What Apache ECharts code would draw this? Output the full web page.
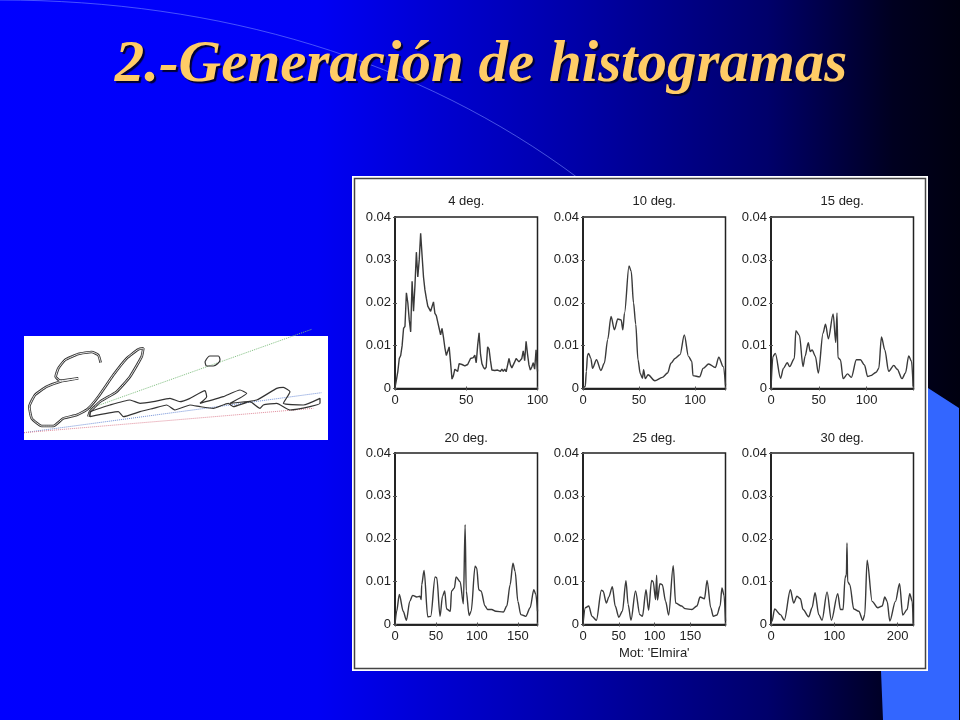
<!DOCTYPE html>
<html><head><meta charset="utf-8">
<style>html,body{margin:0;padding:0;background:#00f}#c{width:960px;height:720px}</style>
<script src="https://cdn.jsdelivr.net/npm/echarts@6/dist/echarts.min.js"></script>
</head><body><div id="c"></div>
<script>
const slideTitle = '2.-Generación de histogramas';
const panelTitles = ['4 deg.','10 deg.','15 deg.','20 deg.','25 deg.','30 deg.'];
const xMaxes = [100,127,149,174,199,225];
const xSteps = [50,50,50,50,50,100];
const yTicks = [0,0.01,0.02,0.03,0.04];
const xLabelName = "Mot: 'Elmira'";

const deg4 = [[0,.0002],[1,.002],[2,.004],[3,.007],[4,.0077],[5,.01],[6,.014],[7,.0145],[8,.0223],[9,.02],[10,.016],[11,.0132],[12,.025],[13,.018],[14,.024],[15,.0318],[16,.026],[17,.03],[18,.0362],[19,.031],[20,.026],[21,.023],[22,.021],[23,.0192],[24,.0194],[25,.018],[26,.0178],[27,.0202],[28,.0175],[29,.017],[30,.0155],[31,.014],[32,.0125],[33,.014],[34,.012],[35,.0095],[36,.0077],[37,.0078],[38,.0097],[39,.006],[40,.0022],[41,.003],[42,.0045],[43,.0048],[44,.004],[45,.0058],[46,.0058],[47,.0056],[48,.0058],[49,.0053],[50,.0055],[51,.0056],[52,.006],[53,.007],[54,.0072],[55,.0072],[56,.0078],[57,.006],[58,.01],[59,.013],[60,.008],[61,.0058],[62,.005],[63,.0045],[64,.005],[65,.0097],[66,.0092],[67,.0065],[68,.0043],[69,.0043],[70,.0042],[72,.0043],[74,.004],[75,.0045],[76,.004],[77,.0045],[78,.0039],[79,.004],[80,.007],[81,.0055],[82,.0048],[83,.0055],[84,.0062],[85,.007],[86,.0066],[87,.0062],[88,.006],[89,.007],[90,.0088],[91,.0065],[92,.011],[93,.008],[94,.0055],[95,.0043],[96,.005],[97,.006],[98,.0045],[99,.009],[100,.004]];
const deg10 = [[0,0],[2,.0005],[3,.004],[4,.0078],[5,.0082],[7,.007],[8.5,.0047],[12,.0067],[16,.0042],[19,.0059],[22,.0114],[25,.0168],[28,.0137],[31,.0162],[34,.016],[35.5,.0137],[37,.0176],[41,.0286],[43,.0273],[45,.02],[47,.015],[49,.0067],[51,.0035],[53,.0024],[54,.0044],[55.5,.0023],[58,.0032],[64,.0018],[70.7,.0026],[75.4,.0036],[78.4,.0059],[82,.007],[86.5,.0079],[90.3,.0125],[94,.0075],[97,.0063],[98,.003],[104,.0027],[107,.0047],[112,.0057],[118,.0049],[121,.0073],[125,.0051],[127,.0008]];
const deg15 = [[0,0],[2,.0075],[4.5,.0082],[10,.0024],[13,.0047],[17,.006],[19.5,.0051],[24.4,.007],[26,.0135],[29.7,.0124],[33.5,.0051],[35.6,.0075],[39,.0107],[41,.0086],[43,.009],[46.4,.0075],[49.5,.0036],[54.4,.0129],[57,.015],[60,.0116],[65,.0174],[67.7,.0107],[69,.0176],[70,.0072],[72.6,.0067],[75.4,.0023],[80,.0034],[84,.0026],[89.3,.0067],[93.5,.0067],[97.7,.0055],[101,.0028],[104,.003],[110,.0038],[112.7,.0047],[115.5,.012],[119,.009],[123,.004],[128.4,.0054],[132,.0045],[137,.0023],[140.6,.0036],[144,.0076],[147,.0063],[148.6,.0005]];
const deg20 = [[0,0],[2,.0031],[5.3,.007],[10,.0031],[14,.001],[18,.0054],[21.6,.0068],[26.5,.0064],[30.5,.0066],[32,.0058],[32.6,.0093],[35.5,.0126],[40,.0018],[43.6,.0019],[49,.0111],[51,.0109],[55,.0019],[58,.0066],[60.7,.0078],[63,.0036],[67.6,.0031],[69,.0078],[72.5,.0085],[74.6,.0111],[79.5,.01],[83.5,.0048],[85.6,.0233],[87,.0078],[90.5,.0021],[93,.0031],[97.8,.0136],[99.8,.0132],[102.3,.0081],[105,.0078],[110,.0043],[113,.0035],[118,.0035],[123,.0031],[132.4,.0029],[136.5,.0043],[140.6,.0093],[144,.0143],[146.7,.0124],[150,.0054],[153.6,.0023],[159.7,.0019],[165,.0039],[169.5,.0081],[172,.007],[174,.0031]];
const deg25 = [[0,0],[3.3,.0039],[8,.0043],[12.6,.0019],[18.7,.001],[25.7,.008],[28,.0078],[32.7,.005],[36,.0064],[41,.0088],[45,.0043],[50,.0017],[55,.0031],[60,.0102],[63,.0047],[67,.001],[73.3,.0078],[79.4,.0023],[83,.0019],[88,.0081],[91.6,.0033],[95.8,.0103],[98,.01],[101.4,.0058],[102.8,.0115],[104,.0057],[107.4,.0095],[110.7,.0093],[115.4,.0054],[119.6,.0022],[126,.0137],[129.4,.005],[137.8,.0043],[142.5,.0037],[152,.0035],[159,.0043],[163.5,.0064],[169.6,.006],[173.3,.0103],[178.4,.0039],[182,.0019],[187,.0022],[191.5,.0043],[194,.0085],[197,.0068],[199,.0008]];
const deg30 = [[0,.0005],[1.6,.0008],[5.8,.0036],[14.8,.0023],[21,.001],[30.6,.0081],[35.8,.005],[41,.0066],[46.4,.006],[50.6,.0035],[59.5,.0018],[64.8,.0039],[69.6,.0074],[75.4,.0023],[80.6,.001],[88.5,.0076],[95.4,.001],[105.4,.0072],[109.6,.0035],[113.8,.0035],[117,.0109],[119,.0116],[120,.019],[121,.01],[124.4,.0093],[130.7,.0036],[138.6,.0031],[145,.001],[148,.0023],[151.8,.015],[159.7,.0054],[168.6,.0039],[175.5,.0043],[179.7,.0064],[183.4,.0054],[187.6,.0008],[196.5,.0054],[203,.0095],[208,.0022],[215,.0035],[219,.0072],[223,.0054],[224.5,.0002]];
const panelData = [deg4,deg10,deg15,deg20,deg25,deg30];
const panelSmooth = [0,0.3,0.3,0.3,0.3,0.3];

// signature image content, in the units of a 990x390 picture
const sigStroke = [[272,128],[265,105],[245,96],[205,102],[165,120],[145,145],[137,170],[150,182],[205,175],[150,185],[110,200],[75,225],[58,260],[65,295],[95,318],[130,318],[160,295],[200,285],[232,268],[265,230],[310,165],[350,115],[385,88],[400,85],[395,110],[360,170],[320,215],[270,245],[240,275],[235,290]];
const sigRibbon = [[240,275],[300,255],[360,240],[390,250],[430,245],[480,235],[510,245],[540,235],[585,212],[590,230],[570,250],[640,230],[690,210],[710,220],[660,250],[740,240],[800,205],[820,202],[840,215],[820,250],[880,255],[930,235],[930,250],[900,260],[840,270],[800,250],[760,255],[750,265],[720,245],[670,260],[655,250],[610,265],[570,260],[540,255],[495,270],[470,255],[430,265],[390,275],[340,290],[325,275],[240,290],[240,275]];
const sigDot = [[585,125],[600,108],[625,108],[630,120],[610,138],[590,138],[585,125]];
const sigGreen = [[240,265],[905,28]];
const sigBlue = [[42,338],[935,218]];
const sigRed = [[42,338],[910,265]];

const colX = [395,583,771], colW = 142.5;
const rowY = [217,453], rowH = 171.5;
const grids=[], xAxes=[], yAxes=[], series=[], titles=[];
const ink = '#222';

titles.push({text:slideTitle,left:481,top:36,padding:0,textAlign:'center',
  textStyle:{fontFamily:'Liberation Serif',fontStyle:'italic',fontWeight:'bold',fontSize:59,color:'#FFCC66',
    textShadowColor:'#000033',textShadowOffsetX:2,textShadowOffsetY:2,textShadowBlur:1}});

panelData.forEach((data,i)=>{
  const left=colX[i%3], top=rowY[i<3?0:1];
  grids.push({left,top,width:colW,height:rowH,show:true,backgroundColor:'#fff',borderColor:ink,borderWidth:1.5});
  const tick={show:true,inside:true,length:2,lineStyle:{color:'#555',width:1}};
  const line={show:true,lineStyle:{color:ink,width:1.5}};
  const step=xSteps[i];
  xAxes.push({gridIndex:i,type:'value',min:0,max:xMaxes[i],interval:step,splitLine:{show:false},axisLine:line,axisTick:tick,
    axisLabel:{color:ink,fontSize:13,fontFamily:'Liberation Sans',margin:5,hideOverlap:false,showMaxLabel:true,
      formatter:v=>v%step===0?String(v):''},
    ...(i===4?{name:xLabelName,nameLocation:'middle',nameGap:22,nameTextStyle:{color:ink,fontSize:13,fontFamily:'Liberation Sans'}}:{})});
  xAxes.push({gridIndex:i,type:'value',position:'top',min:0,max:xMaxes[i],interval:step,splitLine:{show:false},axisLine:line,axisTick:tick,axisLabel:{show:false}});
  yAxes.push({gridIndex:i,type:'value',min:0,max:0.04,interval:yTicks[1],splitLine:{show:false},axisLine:line,axisTick:tick,
    axisLabel:{color:ink,fontSize:13,fontFamily:'Liberation Sans',margin:4,formatter:v=>v===0?'0':v.toFixed(2)}});
  yAxes.push({gridIndex:i,type:'value',position:'right',min:0,max:0.04,interval:yTicks[1],splitLine:{show:false},axisLine:line,axisTick:tick,axisLabel:{show:false}});
  series.push({type:'line',xAxisIndex:2*i,yAxisIndex:2*i,data,showSymbol:false,symbol:'none',smooth:panelSmooth[i],smoothMonotone:'x',
    lineStyle:{color:'#3a3a3a',width:1.4},silent:true,animation:false,clip:true});
  titles.push({text:panelTitles[i],left:left+colW/2,top:top-(i<3?22:21),padding:0,textAlign:'center',
    textStyle:{color:ink,fontSize:13,fontWeight:'normal',fontFamily:'Liberation Sans'}});
});

// signature picture, on its own hidden axes
const sg=panelData.length;
grids.push({left:10,top:320,width:330,height:130,show:false});
xAxes.push({gridIndex:sg,type:'value',min:0,max:990,show:false});
yAxes.push({gridIndex:sg,type:'value',min:0,max:390,inverse:true,show:false});
const xi=xAxes.length-1, yi=yAxes.length-1;
const sigLine=(data,color,width,type,smooth)=>({type:'line',xAxisIndex:xi,yAxisIndex:yi,data,symbol:'none',showSymbol:false,smooth:smooth||0,
  lineStyle:{color,width,type:type||'solid'},silent:true,animation:false,clip:false,z:3});
series.push(sigLine(sigGreen,'#7fbf7f',1,'dotted'));
series.push(sigLine(sigBlue,'#6f8fd8',1,'dotted'));
series.push(sigLine(sigRed,'#e08a9a',1,'dotted'));
series.push(sigLine(sigStroke,'#333',2.6,'solid',0.15));
series.push(sigLine(sigStroke,'#fff',0.9,'solid',0.15));
series.push(sigLine(sigRibbon,'#333',1.2,'solid',0.15));
series.push(sigLine(sigDot,'#333',1.2,'solid',0.3));

const chart=echarts.init(document.getElementById('c'),null,{renderer:'canvas'});
chart.setOption({
  animation:false,
  title:titles,grid:grids,xAxis:xAxes,yAxis:yAxes,series,
  graphic:[
    {type:'rect',z:-100,shape:{x:0,y:0,width:960,height:720},
      style:{fill:new echarts.graphic.LinearGradient(0,0,1,0,[{offset:0,color:'#0000ff'},{offset:0.33,color:'#0000f5'},{offset:0.6,color:'#0000a8'},{offset:0.8,color:'#00006a'},{offset:0.93,color:'#000020'},{offset:1,color:'#000010'}])}},
    {type:'bezierCurve',z:-95,shape:{x1:0,y1:0,cpx1:220,cpy1:0,cpx2:420,cpy2:60,x2:578,y2:178},
      style:{stroke:'rgba(130,150,255,0.55)',lineWidth:1,fill:null}},
    {type:'polygon',z:-94,shape:{points:[[928,388],[959,408],[959,720],[883,720],[881,671],[928,671]]},style:{fill:'#3366ff'}},
    {type:'rect',z:-90,shape:{x:352,y:176,width:576,height:495},style:{fill:'#fff'}},
    {type:'rect',z:-89,shape:{x:354.5,y:178.5,width:571,height:490},style:{fill:'#fff',stroke:'#444',lineWidth:1.5}},
    {type:'rect',z:-88,shape:{x:24,y:336,width:304,height:104},style:{fill:'#fff'}}
  ]
});
</script></body></html>
